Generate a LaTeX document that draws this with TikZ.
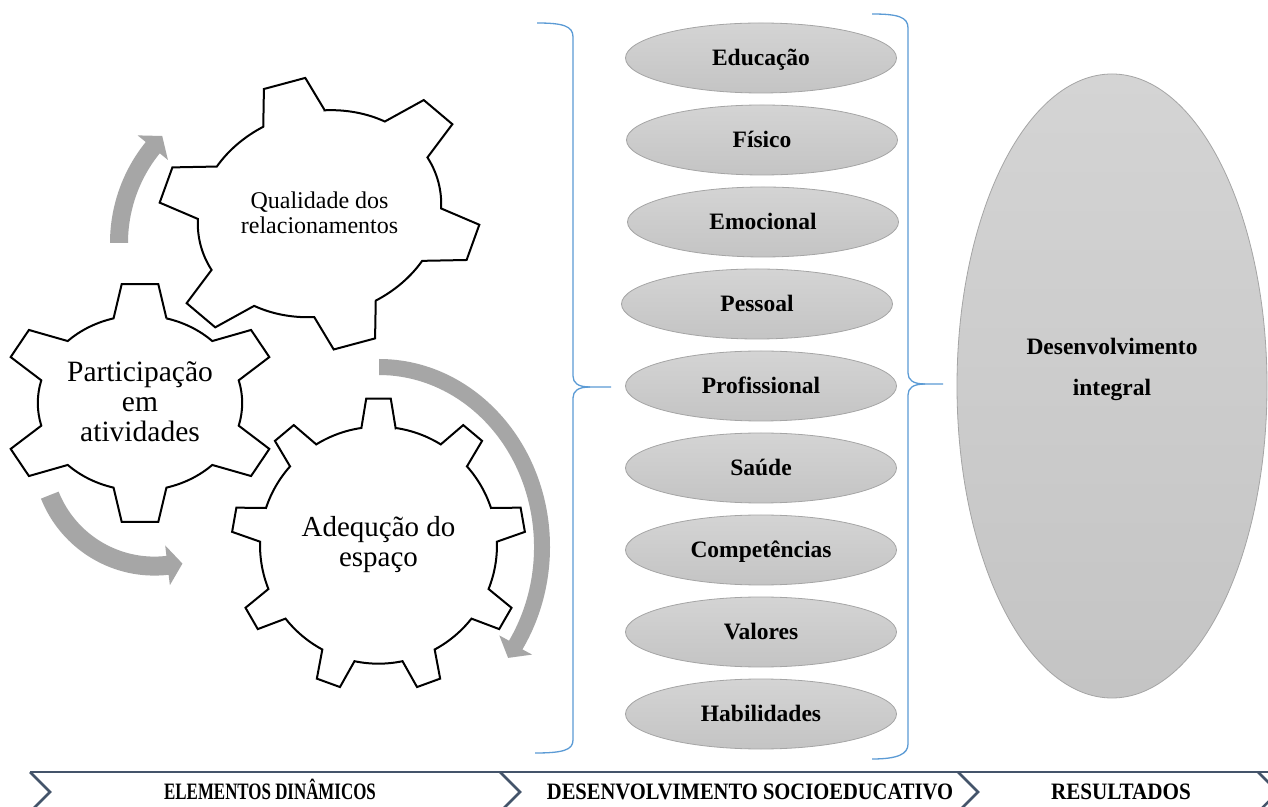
\documentclass[tikz,border=0pt]{standalone}
\usepackage{fontspec}
\setmainfont{Liberation Serif}
\usepackage{graphicx}
\usetikzlibrary{shapes.geometric,calc}
\definecolor{arrowgray}{HTML}{A6A6A6}
\definecolor{bracecol}{HTML}{5B9BD5}
\definecolor{ellborder}{HTML}{A5A5A5}
\definecolor{elltop}{HTML}{D4D4D4}
\definecolor{ellbot}{HTML}{C4C4C4}
\definecolor{chevcol}{HTML}{44546A}
\newcommand{\fsz}[1]{\fontsize{#1}{#1}\selectfont}
% N teeth, first tooth angle, tip half-angle, base half-angle, inner radius
\newcommand{\drawgear}[5]{%
  \pgfmathsetmacro{\gstep}{360/#1}%
  \draw[gearline] ({#2-#4}:#5)
  \foreach \k [evaluate=\k as \gTc using {#2+(\k-1)*\gstep},
               evaluate=\k as \gSa using {#2+(\k-1)*\gstep+#4},
               evaluate=\k as \gEa using {#2+\k*\gstep-#4}] in {1,...,#1} {
     -- ({\gTc-#3}:1) -- ({\gTc+#3}:1) -- ({\gTc+#4}:#5)
     arc[start angle=\gSa, end angle=\gEa, radius=#5]
  } -- cycle;
}
\begin{document}
\begin{tikzpicture}[x=1pt,y=1pt,
  gearline/.style={draw=black,line width=2pt,fill=white,line join=miter},
  arrowband/.style={fill=arrowgray,draw=none},
  bracket/.style={draw=bracecol,line width=1.3pt},
  elli/.style={ellipse,draw=ellborder,line width=0.8pt,top color=elltop,bottom color=ellbot,
    minimum width=271pt,minimum height=70pt,inner sep=0pt,text height=15.6pt,text depth=0pt,
    font=\bfseries\fsz{23.5}},
  chev/.style={draw=chevcol,line width=2.5pt,line join=miter},
  gtext/.style={anchor=base,inner sep=0pt},
  lbl/.style={anchor=base,inner sep=0pt,font=\bfseries\fsz{23.5}},
]
\useasboundingbox (0,0) rectangle (1268,806);
\fill[white] (0,0) rectangle (1268,806);
\clip (0,0) rectangle (1268,806);

% gears
\begin{scope}[shift={(319.5,592.3)},rotate=15,xscale=164,yscale=136]
  \drawgear{6}{90}{7.5}{15}{0.75}
\end{scope}
\begin{scope}[shift={(140,403)},xscale=140,yscale=120]
  \drawgear{6}{90}{7.5}{15}{0.73}
\end{scope}
\begin{scope}[shift={(378.5,260.8)},xscale=147,yscale=147]
  \drawgear{9}{90}{4.8}{8.3}{0.806}
\end{scope}

% gear texts
\node[gtext,font=\fsz{24}] (q1) at (319.5,597.7) {Qualidade dos};
\node[gtext,font=\fsz{24}] (q2) at (319.5,572.7) {relacionamentos};
\node[gtext,font=\fsz{29.5}] (p1) at (140,424.3) {Participação};
\node[gtext,font=\fsz{29.5}] (p2) at (140,394.3) {em};
\node[gtext,font=\fsz{29.5}] (p3) at (140,364.3) {atividades};
\node[gtext,font=\fsz{29}] (a1) at (378.5,269.3) {Adequção do};
\node[gtext,font=\fsz{29}] (a2) at (378.5,239.3) {espaço};

% curved arrows
\coordinate (c1) at (270.5,563);
\fill[arrowband] ($(c1)+(180:160.5)$) arc[start angle=180,end angle=141,radius=160.5]
  -- ($(c1)+(141:171)$) -- ($(c1)+(141:151.5)+(51:15)$) -- ($(c1)+(141:132)$)
  -- ($(c1)+(141:142.5)$) arc[start angle=141,end angle=180,radius=142.5] -- cycle;
\coordinate (c2) at (154.4,352.5);
\fill[arrowband] ($(c2)+(-158.3:122.1)$) arc[start angle=-158.3,end angle=-83.3,radius=122.1]
  -- ($(c2)+(-83.3:132.6)$) -- ($(c2)+(-83.3:112.6)+(6.7:15)$) -- ($(c2)+(-83.3:92.6)$)
  -- ($(c2)+(-83.3:103.1)$) arc[start angle=-83.3,end angle=-158.3,radius=103.1] -- cycle;
\fill[arrowband] (379,447) arc[start angle=90,end angle=-33,x radius=171,y radius=188]
  -- (532.1,151.4) -- (508.1,148.1) -- (499.3,170.6) -- (509.0,165.3)
  arc[start angle=-33,end angle=90,x radius=155,y radius=172] -- cycle;

% braces
\draw[bracket] (537,783) .. controls (563,783) and (573,780) .. (573,769) -- (573,430)
  .. controls (573,423) and (578,419) .. (590,419) -- (611,419);
\draw[bracket] (590,419) .. controls (578,419) and (573,415) .. (573,408) -- (573,66)
  .. controls (573,56) and (563,53) .. (535,53);
\draw[bracket] (872,792) .. controls (898,792) and (908,789) .. (908,778) -- (908,433)
  .. controls (908,426) and (913,422) .. (925,422) -- (943,422);
\draw[bracket] (925,422) .. controls (913,422) and (908,418) .. (908,411) -- (908,62)
  .. controls (908,52) and (898,47) .. (872,47);

% ellipses
\node[elli] (e1) at (761,748) {Educação};
\node[elli] (e2) at (762,666) {Físico};
\node[elli] (e3) at (763,584) {Emocional};
\node[elli] (e4) at (757,502) {Pessoal};
\node[elli] (e5) at (761,420) {Profissional};
\node[elli] (e6) at (761,338) {Saúde};
\node[elli] (e7) at (761,256) {Competências};
\node[elli] (e8) at (761,174) {Valores};
\node[elli] (e9) at (761,92) {Habilidades};

% result ellipse
\node[ellipse,draw=ellborder,line width=0.8pt,top color=elltop,bottom color=ellbot,
  minimum width=310pt,minimum height=624pt,inner sep=0pt] (big) at (1112,420) {};
\node[lbl] (d1) at (1112,451) {Desenvolvimento};
\node[lbl] (d2) at (1112,410) {integral};

% bottom chevrons
\draw[chev] (30,34) -- (1270,34);
\foreach \cx in {30,500,958,1258} \draw[chev] (\cx,34) -- (\cx+20,14) -- (\cx,-6);
\node[lbl] (l1) at (270,7) {\scalebox{0.72}[1]{ELEMENTOS DINÂMICOS}};
\node[lbl] (l2) at (750,7) {\scalebox{0.875}[1]{DESENVOLVIMENTO SOCIOEDUCATIVO}};
\node[lbl] (l3) at (1121,7) {\scalebox{0.9}[1]{RESULTADOS}};
\end{tikzpicture}
\end{document}
